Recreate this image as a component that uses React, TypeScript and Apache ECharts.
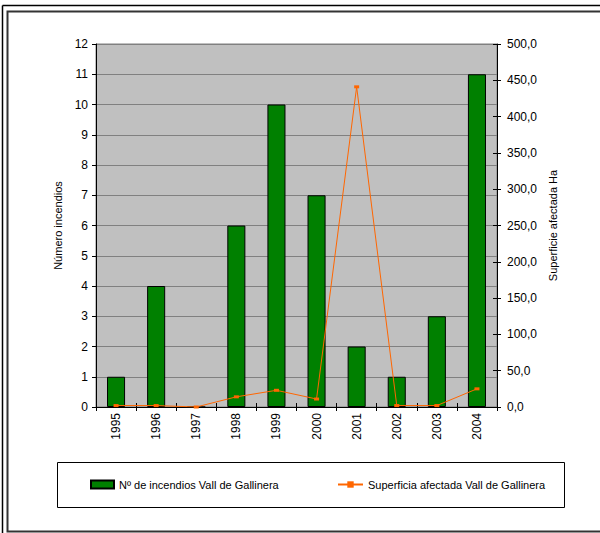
import React, { useEffect, useRef } from "react";
import * as echarts from "echarts";

const years = ["1995", "1996", "1997", "1998", "1999", "2000", "2001", "2002", "2003", "2004"];
const incendios = [1, 4, 0, 6, 10, 7, 2, 1, 3, 11];
const superficie = [2, 2, 0, 14, 23, 11, 441, 2, 2, 25];
const barName = "Nº de incendios Vall de Gallinera";
const lineName = "Superficia afectada Vall de Gallinera";
const leftAxisName = "Número incendios";
const rightAxisName = "Superficie afectada Ha";

const FONT = "'Liberation Sans', Arial, sans-serif";

export default function App() {
  const ref = useRef<HTMLDivElement>(null);
  useEffect(() => {
    if (!ref.current) return;
    const chart = echarts.init(ref.current, undefined, { renderer: "svg" });
    const text = { fontFamily: FONT, fontSize: 12, color: "#000" };
    const smallText = { fontFamily: FONT, fontSize: 11, color: "#000" };
    chart.setOption({
      animation: false,
      backgroundColor: "#fff",
      textStyle: { fontFamily: FONT },
      graphic: [
        { type: "line", shape: { x1: 2.5, y1: 5.5, x2: 2.5, y2: 540 }, style: { stroke: "#000", lineWidth: 1.5 } },
        { type: "line", shape: { x1: 2.5, y1: 5.5, x2: 610, y2: 5.5 }, style: { stroke: "#000", lineWidth: 1.5 } },
        { type: "rect", shape: { x: 7.5, y: 11.5, width: 620, height: 520 }, style: { fill: "none", stroke: "#333", lineWidth: 2 } },
        { type: "rect", shape: { x: 57.5, y: 462.5, width: 507, height: 45 }, style: { fill: "none", stroke: "#000", lineWidth: 1 } },
      ],
      legend: [
        {
          data: [{ name: barName, icon: "rect" }],
          left: 90,
          top: 479,
          padding: 0,
          itemWidth: 23,
          itemHeight: 8,
          textStyle: smallText,
          selectedMode: false,
        },
        {
          data: [{ name: lineName }],
          left: 337,
          top: 479,
          padding: 0,
          itemWidth: 25,
          itemHeight: 8,
          textStyle: smallText,
          selectedMode: false,
        },
      ],
      grid: {
        left: 96,
        top: 44,
        width: 401,
        height: 363,
        show: true,
        backgroundColor: "#C0C0C0",
        borderColor: "#808080",
        borderWidth: 1,
      },
      xAxis: [
        {
          type: "category",
          data: years,
          position: "bottom",
          axisLine: { lineStyle: { color: "#000", width: 1 } },
          axisTick: { show: true, inside: false, length: 4, lineStyle: { color: "#000" } },
          axisLabel: { ...text, rotate: 90, margin: 6 },
          splitLine: { show: false },
        },
        {
          type: "category",
          data: years,
          position: "bottom",
          axisLine: { show: false },
          axisTick: { show: true, inside: true, length: 4, lineStyle: { color: "#000" } },
          axisLabel: { show: false },
          splitLine: { show: false },
        },
      ],
      yAxis: [
        {
          type: "value",
          min: 0,
          max: 12,
          interval: 1,
          position: "left",
          name: leftAxisName,
          nameLocation: "middle",
          nameGap: 31,
          nameRotate: 90,
          nameTextStyle: smallText,
          axisLine: { show: true, lineStyle: { color: "#000" } },
          axisTick: { show: true, length: 4, lineStyle: { color: "#000" } },
          axisLabel: { ...text, margin: 8 },
          splitLine: { show: true, lineStyle: { color: "#808080", width: 1 } },
        },
        {
          type: "value",
          min: 0,
          max: 500,
          interval: 50,
          position: "right",
          name: rightAxisName,
          nameLocation: "middle",
          nameGap: 44,
          nameRotate: 90,
          nameTextStyle: smallText,
          axisLine: { show: true, lineStyle: { color: "#000" } },
          axisTick: { show: true, length: 4, lineStyle: { color: "#000" } },
          axisLabel: {
            ...text,
            margin: 10,
            formatter: (v: number) => v.toFixed(1).replace(".", ","),
          },
          splitLine: { show: false },
        },
        {
          type: "value",
          min: 0,
          max: 500,
          interval: 50,
          position: "right",
          axisLine: { show: false },
          axisTick: { show: true, inside: true, length: 4, lineStyle: { color: "#000" } },
          axisLabel: { show: false },
          splitLine: { show: false },
        },
      ],
      series: [
        {
          name: barName,
          type: "bar",
          xAxisIndex: 0,
          yAxisIndex: 0,
          data: incendios,
          barWidth: "45%",
          itemStyle: { color: "#008000", borderColor: "#000", borderWidth: 1 },
        },
        {
          name: lineName,
          type: "line",
          xAxisIndex: 0,
          yAxisIndex: 1,
          data: superficie,
          symbol: "rect",
          symbolSize: [5, 3],
          showSymbol: true,
          lineStyle: { color: "#FF6600", width: 1 },
          itemStyle: { color: "#FF6600" },
          z: 5,
        },
      ],
    });
    return () => chart.dispose();
  }, []);
  return <div ref={ref} style={{ position: "fixed", left: 0, top: 0, width: 600, height: 533 }} />;
}
